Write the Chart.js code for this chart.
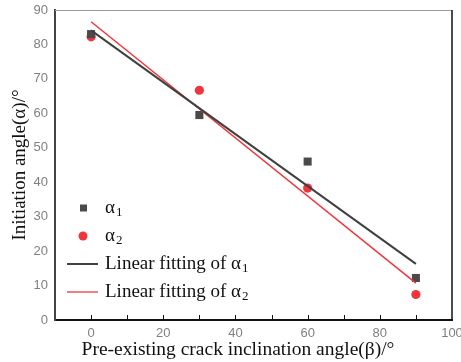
<!DOCTYPE html>
<html>
<head>
<meta charset="utf-8">
<script src="https://cdn.jsdelivr.net/npm/chart.js@4.4.0/dist/chart.umd.min.js"></script>
<style>
  html, body { margin: 0; padding: 0; background: #fff; }
  #wrap { width: 461px; height: 362px; }
</style>
</head>
<body>
<div id="wrap"><canvas id="chart" width="461" height="362"></canvas></div>
<script>
// crack angles (beta) and measured initiation angles
const betaValues = [0, 30, 60, 90];
const alpha1 = [83.0, 59.5, 46.0, 12.2];
const alpha2 = [82.2, 66.7, 38.3, 7.4];

// fitted lines, end points
const fitX = [0, 90];
const fit1 = [84.1, 16.3];
const fit2 = [86.6, 10.7];

const xTickLabels = [0, 20, 40, 60, 80, 100];
const xTitle = 'Pre-existing crack inclination angle(β)/°';
const legendNames = ['α', 'α', 'Linear fitting of α', 'Linear fitting of α'];
const legendSubs = ['1', '2', '1', '2'];

const gray = '#4a4a4a';
const red = '#f0363c';

function toPoints(xs, ys) {
    return xs.map((x, i) => ({ x: x, y: ys[i] }));
}

const frame = {
    id: 'frame',
    afterDatasetsDraw(chart) {
        const ctx = chart.ctx;
        const a = chart.chartArea;
        const xs = chart.scales.x;
        ctx.save();
        // top and right borders
        ctx.strokeStyle = '#9a9a9a';
        ctx.lineWidth = 1;
        ctx.beginPath();
        ctx.moveTo(a.left, a.top + 0.5);
        ctx.lineTo(a.right, a.top + 0.5);
        ctx.stroke();
        ctx.strokeStyle = '#111';
        ctx.lineWidth = 1.5;
        ctx.beginPath();
        ctx.moveTo(a.right, a.top);
        ctx.lineTo(a.right, a.bottom);
        ctx.stroke();
        // inward ticks on x axis
        ctx.lineWidth = 1;
        for (let v = 0; v < 100; v += 10) {
            const px = Math.round(xs.getPixelForValue(v)) + 0.5;
            ctx.beginPath();
            ctx.moveTo(px, a.bottom);
            ctx.lineTo(px, a.bottom - 5);
            ctx.stroke();
        }
        ctx.restore();
    }
};

const legendBox = {
    id: 'legendBox',
    afterDraw(chart) {
        const ctx = chart.ctx;
        const rows = [208, 236, 264, 292];
        ctx.save();
        for (let i = 0; i < 4; i++) {
            const y = rows[i];
            if (i === 0) {
                ctx.fillStyle = gray;
                ctx.fillRect(80, y - 3.5, 7, 7);
            } else if (i === 1) {
                ctx.fillStyle = red;
                ctx.beginPath();
                ctx.arc(83, y, 4.5, 0, Math.PI * 2);
                ctx.fill();
            } else {
                ctx.strokeStyle = i === 2 ? '#404040' : red;
                ctx.lineWidth = i === 2 ? 2 : 1.3;
                ctx.beginPath();
                ctx.moveTo(67, y);
                ctx.lineTo(98, y);
                ctx.stroke();
            }
            ctx.fillStyle = '#111';
            ctx.textBaseline = 'middle';
            ctx.textAlign = 'left';
            ctx.font = '19px "Liberation Serif"';
            ctx.fillText(legendNames[i], 105, y);
            const w = ctx.measureText(legendNames[i]).width;
            ctx.font = '13px "Liberation Serif"';
            ctx.fillText(legendSubs[i], 105 + w + 1, y + 5);
        }
        // x axis title, sits a little left of the plot centre
        ctx.font = '19.5px "Liberation Serif"';
        ctx.textAlign = 'center';
        ctx.textBaseline = 'alphabetic';
        ctx.fillText(xTitle, 238, 355);
        ctx.restore();
    }
};

const config = {
    type: 'scatter',
    data: {
        datasets: [
            {
                label: 'fit1',
                data: toPoints(fitX, fit1),
                showLine: true,
                borderColor: '#404040',
                borderWidth: 2,
                pointRadius: 0
            },
            {
                label: 'fit2',
                data: toPoints(fitX, fit2),
                showLine: true,
                borderColor: red,
                borderWidth: 1.5,
                pointRadius: 0
            },
            {
                label: 'alpha1',
                data: toPoints(betaValues, alpha1),
                pointStyle: 'rect',
                pointRadius: 5.7,
                backgroundColor: gray,
                borderColor: gray,
                borderWidth: 0
            },
            {
                label: 'alpha2',
                data: toPoints(betaValues, alpha2),
                pointStyle: 'circle',
                pointRadius: 4.6,
                backgroundColor: red,
                borderColor: red,
                borderWidth: 0
            }
        ]
    },
    options: {
        responsive: false,
        animation: false,
        layout: { padding: { left: 0, top: 10, right: 9, bottom: 0 } },
        plugins: {
            legend: { display: false },
            tooltip: { enabled: false }
        },
        scales: {
            x: {
                type: 'linear',
                min: -10,
                max: 100,
                afterFit(scale) {
                    scale.height = 42;
                    scale.paddingLeft = 0;
                    scale.paddingRight = 0;
                },
                ticks: {
                    stepSize: 10,
                    autoSkip: false,
                    maxRotation: 0,
                    padding: 6,
                    color: '#808080',
                    font: { family: 'Liberation Sans', size: 13 },
                    callback: (v) => xTickLabels.includes(v) ? String(v) : ''
                },
                grid: { drawOnChartArea: false, drawTicks: false },
                border: { color: '#111', width: 2 },
                title: { display: false }
            },
            y: {
                min: 0,
                max: 90,
                afterFit(scale) {
                    scale.width = 55;
                    scale.paddingTop = 0;
                    scale.paddingBottom = 0;
                },
                ticks: {
                    stepSize: 10,
                    padding: 7,
                    color: '#808080',
                    font: { family: 'Liberation Sans', size: 13 }
                },
                grid: { drawOnChartArea: false, drawTicks: false },
                border: { color: '#444', width: 2 },
                title: {
                    display: true,
                    text: 'Initiation angle(α)/°',
                    color: '#111',
                    font: { family: 'Liberation Serif', size: 19 },
                    padding: { top: 9, bottom: 0 }
                }
            }
        }
    },
    plugins: [frame, legendBox]
};

new Chart(document.getElementById('chart'), config);
</script>
</body>
</html>
